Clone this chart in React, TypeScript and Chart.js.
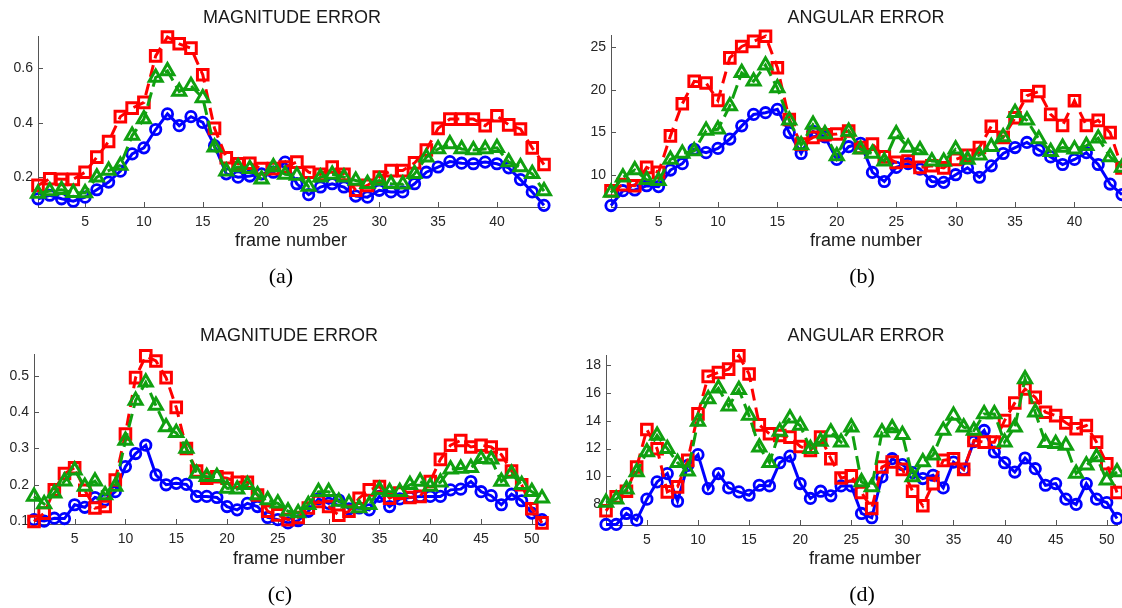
import React, { useEffect, useRef } from 'react';
import { Chart, registerables } from 'chart.js';
Chart.register(...registerables);

// ---------- categories ----------
const framesAB = [1,2,3,4,5,6,7,8,9,10,11,12,13,14,15,16,17,18,19,20,21,22,23,24,25,26,27,28,29,30,31,32,33,34,35,36,37,38,39,40,41,42,43,44];
const framesCD = [1,2,3,4,5,6,7,8,9,10,11,12,13,14,15,16,17,18,19,20,21,22,23,24,25,26,27,28,29,30,31,32,33,34,35,36,37,38,39,40,41,42,43,44,45,46,47,48,49,50,51];

// ---------- tick labels ----------
const xTicksAB = [5, 10, 15, 20, 25, 30, 35, 40];
const xTicksCD = [5, 10, 15, 20, 25, 30, 35, 40, 45, 50];
const yTicksA = [0.2, 0.4, 0.6];
const yTicksB = [10, 15, 20, 25];
const yTicksC = [0.1, 0.2, 0.3, 0.4, 0.5];
const yTicksD = [8, 10, 12, 14, 16, 18];

// ---------- (a) magnitude error ----------
const blueA = [0.122,0.135,0.122,0.113,0.128,0.155,0.183,0.223,0.286,0.308,0.375,0.432,0.389,0.422,0.401,0.316,0.213,0.201,0.205,0.213,0.219,0.256,0.177,0.137,0.165,0.177,0.165,0.132,0.128,0.153,0.147,0.147,0.177,0.219,0.238,0.258,0.252,0.25,0.256,0.25,0.235,0.192,0.147,0.098];
const redA = [0.171,0.195,0.193,0.193,0.219,0.274,0.331,0.422,0.453,0.474,0.644,0.713,0.688,0.672,0.575,0.379,0.272,0.25,0.252,0.232,0.232,0.238,0.256,0.219,0.211,0.238,0.211,0.153,0.171,0.201,0.225,0.225,0.253,0.30,0.379,0.413,0.413,0.413,0.389,0.425,0.392,0.377,0.308,0.247];
const greenA = [0.141,0.15,0.155,0.144,0.143,0.201,0.225,0.244,0.353,0.413,0.565,0.589,0.514,0.535,0.49,0.31,0.223,0.238,0.232,0.193,0.238,0.211,0.207,0.167,0.201,0.211,0.201,0.189,0.177,0.189,0.177,0.175,0.213,0.274,0.304,0.322,0.304,0.30,0.304,0.308,0.256,0.238,0.213,0.15];

// ---------- (b) angular error ----------
const blueB = [6.37,8.12,8.2,8.7,8.6,10.55,11.3,13.0,12.6,13.1,14.2,15.75,17.1,17.3,17.7,14.96,12.5,15.1,14.45,11.8,13.3,13.7,10.27,9.2,10.86,11.3,10.66,9.2,9.1,10.0,10.8,9.7,11.05,12.5,13.2,13.8,12.9,12.1,11.2,11.8,12.6,11.2,8.9,7.66];
const redB = [8.12,8.83,8.7,10.86,10.27,14.57,18.36,21.0,20.8,18.75,23.75,25.1,25.7,26.3,22.6,16.5,13.6,14.4,14.7,14.8,15.15,13.2,13.6,12.1,11.45,11.6,10.86,11.05,10.8,11.8,12.3,13.2,15.7,14.4,16.7,19.3,19.8,17.1,15.8,18.7,15.8,16.4,14.96,10.8];
const greenB = [7.9,9.7,10.55,9.4,9.3,11.8,12.5,12.8,15.2,15.35,18.1,22.0,21.0,22.9,20.2,16.4,13.5,15.9,14.8,12.2,15.1,13.0,12.5,11.6,14.8,13.2,12.9,11.6,11.56,13.0,11.8,12.3,13.3,14.45,17.3,16.4,14.2,12.7,13.2,13.0,13.4,14.3,12.1,10.86];

// ---------- (c) magnitude error ----------
const blueC = [0.104,0.1,0.108,0.107,0.145,0.138,0.165,0.158,0.181,0.25,0.286,0.309,0.227,0.2,0.204,0.201,0.168,0.168,0.165,0.14,0.131,0.149,0.14,0.11,0.104,0.095,0.101,0.127,0.161,0.149,0.158,0.134,0.136,0.131,0.168,0.14,0.161,0.165,0.168,0.168,0.168,0.186,0.188,0.209,0.181,0.17,0.145,0.174,0.156,0.122,0.104];
const redC = [0.099,0.122,0.186,0.231,0.247,0.185,0.136,0.14,0.213,0.34,0.495,0.555,0.541,0.495,0.413,0.30,0.238,0.218,0.222,0.218,0.207,0.207,0.172,0.127,0.117,0.104,0.11,0.136,0.154,0.14,0.116,0.127,0.163,0.186,0.195,0.163,0.177,0.165,0.168,0.209,0.27,0.309,0.322,0.304,0.309,0.304,0.283,0.238,0.2,0.134,0.095];
const greenC = [0.168,0.147,0.177,0.21,0.24,0.195,0.21,0.172,0.195,0.322,0.432,0.482,0.418,0.359,0.343,0.30,0.231,0.222,0.222,0.19,0.188,0.2,0.172,0.158,0.149,0.127,0.122,0.145,0.181,0.181,0.154,0.149,0.136,0.145,0.186,0.181,0.181,0.2,0.209,0.195,0.207,0.243,0.245,0.247,0.272,0.27,0.209,0.231,0.2,0.181,0.163];

// ---------- (d) angular error ----------
const blueD = [6.54,6.54,7.33,6.85,8.36,9.6,10.2,8.21,10.79,11.56,9.12,10.2,9.17,8.88,8.64,9.36,9.31,10.98,11.46,9.48,8.41,8.93,8.6,9.31,9.31,7.33,7.02,9.96,11.27,10.84,10.27,9.84,10.08,9.17,11.03,10.5,12.5,13.3,11.75,10.98,10.31,11.32,10.55,9.36,9.48,8.36,7.98,9.48,8.36,8.12,6.97];
const redD = [7.52,8.52,8.93,10.67,13.37,11.99,8.88,9.24,11.15,14.49,17.19,17.47,17.71,18.67,17.36,13.7,13.06,12.94,12.82,12.15,11.87,12.82,11.27,9.88,10.03,8.84,7.69,10.67,11.03,10.5,8.93,7.88,9.48,11.15,11.27,10.5,12.58,12.46,12.46,14.01,15.28,16.28,15.68,14.61,14.37,13.85,13.42,13.66,12.46,10.91,8.84];
const greenD = [8.12,8.36,9.07,10.31,11.75,12.94,11.99,10.98,10.36,13.94,15.57,16.33,15.04,16.23,14.37,12.1,10.98,13.23,14.18,13.66,11.99,12.51,13.18,12.46,13.54,9.6,9.24,13.18,13.47,12.99,9.96,11.03,11.51,13.3,14.37,13.54,13.3,14.49,14.49,12.46,13.54,17.0,14.61,12.42,12.34,12.22,10.2,10.79,11.39,9.72,10.31];

const AXIS = '#555555';
const TICK = '#262626';
const FONT = "'Liberation Sans', Arial, Helvetica, sans-serif";
const BLUE = '#0000ff';
const RED = '#ff0000';
const GREEN = '#10a010';

const PAD_L = 45, PAD_T = 12, PAD_R = 12, PAD_B = 30;

type Panel = {
  key: string;
  title: string;
  caption: string;
  frames: number[];
  blue: number[]; red: number[]; green: number[];
  xTicks: number[]; yTicks: number[];
  xMax: number; yMin: number; yMax: number;
  L: number; T: number; R: number; B: number;
  titleX: number; titleY: number; xlabX: number; xlabY: number; capX: number; capY: number;
};

const panels: Panel[] = [
  { key: 'a', title: 'MAGNITUDE ERROR', caption: '(a)', frames: framesAB, blue: blueA, red: redA, green: greenA,
    xTicks: xTicksAB, yTicks: yTicksA, xMax: 44, yMin: 0.092, yMax: 0.715,
    L: 38, T: 35, R: 544, B: 207, titleX: 292, titleY: 17, xlabX: 291, xlabY: 240, capX: 281, capY: 276 },
  { key: 'b', title: 'ANGULAR ERROR', caption: '(b)', frames: framesAB, blue: blueB, red: redB, green: greenB,
    xTicks: xTicksAB, yTicks: yTicksB, xMax: 44, yMin: 6.2, yMax: 26.4,
    L: 611, T: 34, R: 1122, B: 207, titleX: 866, titleY: 17, xlabX: 866, xlabY: 240, capX: 862, capY: 276 },
  { key: 'c', title: 'MAGNITUDE ERROR', caption: '(c)', frames: framesCD, blue: blueC, red: redC, green: greenC,
    xTicks: xTicksCD, yTicks: yTicksC, xMax: 51, yMin: 0.092, yMax: 0.559,
    L: 34, T: 353, R: 542, B: 524, titleX: 289, titleY: 335, xlabX: 289, xlabY: 558, capX: 280, capY: 594 },
  { key: 'd', title: 'ANGULAR ERROR', caption: '(d)', frames: framesCD, blue: blueD, red: redD, green: greenD,
    xTicks: xTicksCD, yTicks: yTicksD, xMax: 51, yMin: 6.5, yMax: 18.7,
    L: 606, T: 354, R: 1117, B: 525, titleX: 866, titleY: 335, xlabX: 865, xlabY: 558, capX: 862, capY: 594 },
];

const inwardTicks = {
  id: 'inwardTicks',
  beforeDatasetsDraw(chart: any) {
    const ctx = chart.ctx;
    const { left, bottom } = chart.chartArea;
    const xs = chart.scales.x, ys = chart.scales.y;
    ctx.save();
    ctx.strokeStyle = AXIS;
    ctx.lineWidth = 1;
    ctx.beginPath();
    xs.ticks.forEach((t: any) => {
      const px = Math.round(xs.getPixelForValue(t.value)) + 0.5;
      ctx.moveTo(px, bottom);
      ctx.lineTo(px, bottom - 5);
    });
    ys.ticks.forEach((t: any) => {
      const py = Math.round(ys.getPixelForValue(t.value)) + 0.5;
      ctx.moveTo(left, py);
      ctx.lineTo(left + 5, py);
    });
    ctx.stroke();
    ctx.restore();
  },
};

function PanelChart({ p }: { p: Panel }) {
  const ref = useRef<HTMLCanvasElement | null>(null);
  const W = p.R - p.L + PAD_L + PAD_R;
  const H = p.B - p.T + PAD_T + PAD_B;
  useEffect(() => {
    if (!ref.current) return;
    const pts = (vals: number[]) => p.frames.map((f, i) => ({ x: f, y: vals[i] }));
    const common = {
      fill: false, tension: 0, clip: false as any,
      pointBackgroundColor: 'rgba(0,0,0,0)', pointHoverRadius: 6,
    };
    const chart = new Chart(ref.current, {
      type: 'line',
      data: {
        datasets: [
          { ...common, label: 'blue', data: pts(p.blue), borderColor: BLUE, pointBorderColor: BLUE, borderWidth: 3,
            pointStyle: 'circle', pointRadius: 5.2, pointBorderWidth: 2.8, order: 2 },
          { ...common, label: 'red', data: pts(p.red), borderColor: RED, pointBorderColor: RED, borderWidth: 3,
            borderDash: [12, 7], pointStyle: 'rect', pointRadius: 7.5, pointBorderWidth: 3, order: 1 },
          { ...common, label: 'green', data: pts(p.green), borderColor: GREEN, pointBorderColor: GREEN, borderWidth: 3,
            borderDash: [14, 6], pointStyle: 'triangle', pointRadius: 7.5, pointBorderWidth: 3, order: 0 },
        ] as any,
      },
      options: {
        animation: false,
        responsive: false,
        devicePixelRatio: 1,
        events: [],
        layout: { padding: { top: PAD_T, right: PAD_R, left: 0, bottom: 0 } },
        plugins: { legend: { display: false }, tooltip: { enabled: false }, title: { display: false } },
        scales: {
          x: {
            type: 'linear', min: 1, max: p.xMax,
            afterBuildTicks: (s: any) => { s.ticks = p.xTicks.map((v) => ({ value: v })); },
            afterFit: (s: any) => { s.height = PAD_B; },
            grid: { display: false, drawTicks: false },
            border: { display: true, color: AXIS, width: 1 },
            ticks: { padding: 7, color: TICK, font: { family: FONT, size: 14 }, maxRotation: 0, autoSkip: false,
              callback: (v: any) => String(v) },
          },
          y: {
            type: 'linear', min: p.yMin, max: p.yMax,
            afterBuildTicks: (s: any) => { s.ticks = p.yTicks.map((v) => ({ value: v })); },
            afterFit: (s: any) => { s.width = PAD_L; },
            grid: { display: false, drawTicks: false },
            border: { display: true, color: AXIS, width: 1 },
            ticks: { padding: 5, color: TICK, font: { family: FONT, size: 14 }, autoSkip: false,
              callback: (v: any) => String(v) },
          },
        },
      } as any,
      plugins: [inwardTicks],
    });
    return () => chart.destroy();
  }, []);
  return (
    <canvas ref={ref} width={W} height={H}
      style={{ position: 'absolute', left: p.L - PAD_L, top: p.T - PAD_T, width: W, height: H }} />
  );
}

function Label({ text, cx, cy, size, family, color }: { text: string; cx: number; cy: number; size: number; family: string; color: string }) {
  return (
    <div style={{ position: 'absolute', left: cx - 200, top: cy - size, width: 400, height: size * 2,
      lineHeight: `${size * 2}px`, textAlign: 'center', fontSize: size, fontFamily: family, color, whiteSpace: 'nowrap' }}>
      {text}
    </div>
  );
}

export default function App() {
  return (
    <div style={{ position: 'absolute', left: 0, top: 0, width: 1122, height: 608, overflow: 'hidden', background: '#ffffff' }}>
      {panels.map((p) => <PanelChart key={p.key} p={p} />)}
      {panels.map((p) => (
        <React.Fragment key={'t' + p.key}>
          <Label text={p.title} cx={p.titleX} cy={p.titleY} size={18} family={FONT} color="#1a1a1a" />
          <Label text="frame number" cx={p.xlabX} cy={p.xlabY} size={18} family={FONT} color="#1a1a1a" />
          <Label text={p.caption} cx={p.capX} cy={p.capY} size={22} family="'Liberation Serif', 'DejaVu Serif', serif" color="#000000" />
        </React.Fragment>
      ))}
    </div>
  );
}
